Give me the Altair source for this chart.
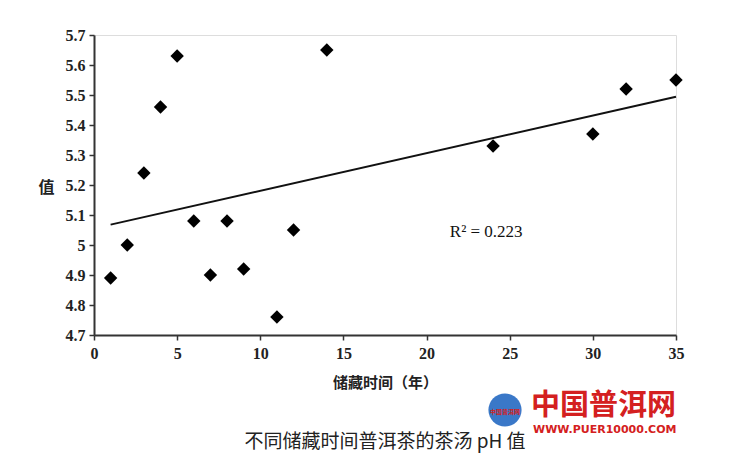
import altair as alt
import pandas as pd

years = [1, 2, 3, 4, 5, 6, 7, 8, 9, 11, 12, 14, 24, 30, 32, 35]
ph = [4.89, 5.00, 5.24, 5.46, 5.63, 5.08, 4.90, 5.08, 4.92, 4.76, 5.05, 5.65, 5.33, 5.37, 5.52, 5.55]
x_ticks = [0, 5, 10, 15, 20, 25, 30, 35]
y_ticks = [4.7, 4.8, 4.9, 5.0, 5.1, 5.2, 5.3, 5.4, 5.5, 5.6, 5.7]
r2_label = "R² = 0.223"

df = pd.DataFrame({"year": years, "ph": ph})

W, H = 582, 300
serif = "Liberation Serif"
cjk = "Noto Sans CJK SC"

xs = alt.Scale(domain=[0, 35], nice=False)
ys = alt.Scale(domain=[4.7, 5.7], nice=False, zero=False)

x_axis = alt.Axis(values=x_ticks, format="~f", grid=False,
                  labelOverlap=False, labelFlush=False,
                  labelFont=serif, labelFontSize=16, labelFontWeight="bold",
                  labelColor="#222", labelPadding=5,
                  titleFont=cjk, titleFontSize=15, titleFontWeight="bold",
                  titleColor="#222", titlePadding=14,
                  domainColor="#333", domainWidth=2, tickColor="#333",
                  tickWidth=1.5, tickSize=5)
y_axis = alt.Axis(values=y_ticks, format="~f", grid=False,
                  labelOverlap=False, labelFlush=False,
                  labelFont=serif, labelFontSize=16, labelFontWeight="bold",
                  labelColor="#222", labelPadding=4,
                  titleFont=cjk, titleFontSize=16, titleFontWeight="bold",
                  titleColor="#222", titleAngle=0, titleX=-40, titleY=152,
                  titleAlign="right", titleBaseline="middle",
                  domainColor="#333", domainWidth=2, tickColor="#333",
                  tickWidth=1.5, tickSize=5)

x_enc = alt.X("year:Q", scale=xs, title="储藏时间（年）", axis=x_axis)
y_enc = alt.Y("ph:Q", scale=ys, title="值", axis=y_axis)

base = alt.Chart(df)

points = base.mark_point(shape="diamond", filled=True, color="#000", size=180, opacity=1).encode(
    x=x_enc, y=y_enc)

trend = base.transform_regression("year", "ph", method="linear", extent=[1, 35]).mark_line(
    color="#111", strokeWidth=2).encode(x=x_enc, y=y_enc)

r2 = alt.Chart(pd.DataFrame({"year": [21.4], "ph": [5.043], "t": [r2_label]})).mark_text(
    font=serif, fontSize=17, align="left", baseline="middle", color="#111").encode(
    x=x_enc, y=y_enc, text="t:N")

title = alt.Chart(pd.DataFrame({"t": ["不同储藏时间普洱茶的茶汤 pH 值"]})).mark_text(
    font=cjk, fontSize=19, align="center", baseline="middle", color="#222").encode(
    x=alt.value(291), y=alt.value(407), text="t:N")

globe = alt.Chart(pd.DataFrame({"a": [1]})).mark_point(
    shape="circle", filled=True, color="#3a78c8", size=1100, opacity=1).encode(
    x=alt.value(411), y=alt.value(375))

globe_txt = alt.Chart(pd.DataFrame({"t": ["中国普洱网"]})).mark_text(
    font=cjk, fontSize=6, fontWeight="bold", align="center", baseline="middle", color="#d42020").encode(
    x=alt.value(411), y=alt.value(377), text="t:N")

logo = alt.Chart(pd.DataFrame({"t": ["中国普洱网"]})).mark_text(
    font=cjk, fontSize=29, fontWeight="bold", align="left", baseline="middle", color="#d42020").encode(
    x=alt.value(437), y=alt.value(371), text="t:N")

url = alt.Chart(pd.DataFrame({"t": ["WWW.PUER10000.COM"]})).mark_text(
    font="DejaVu Sans", fontSize=11, fontWeight="bold", align="left", baseline="middle", color="#d42020").encode(
    x=alt.value(439), y=alt.value(395), text="t:N")

chart = alt.layer(points, trend, r2, title, globe, globe_txt, logo, url).properties(
    width=W, height=H,
    autosize=alt.AutoSizeParams(type="none"),
    padding={"left": 86, "top": 27, "right": 56, "bottom": 121},
).configure_view(stroke=None).configure(background="white")

chart.save("out.html", embed_options={"renderer": "svg", "actions": False})
